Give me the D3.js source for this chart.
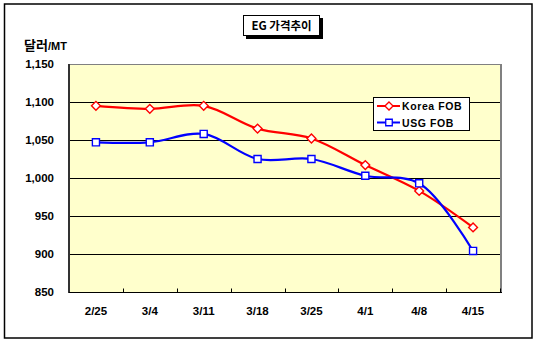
<!DOCTYPE html>
<html><head><meta charset="utf-8">
<script src="https://cdn.jsdelivr.net/npm/d3@7"></script>
<style>body{margin:0;background:#fff}</style>
</head><body><svg id="c" width="537" height="345"></svg>
<script>
const categories = ["2/25","3/4","3/11","3/18","3/25","4/1","4/8","4/15"];
const koreaFOB = [1095,1091,1095,1065,1052,1017,983,935];
const usgFOB = [1047,1047,1058,1025,1025,1003,993,904];
const yTicks = [850,900,950,1000,1050,1100,1150];
const seriesNames = ["Korea FOB","USG FOB"];
const title = "EG 가격추이";

const svg = d3.select("#c");
const L=69,R=500,T=64,B=292;
const font = "'Liberation Sans', Arial, sans-serif";
const kfont = "'Noto Sans CJK KR', sans-serif";

// outer border
svg.append("rect").attr("x",4.5).attr("y",4).attr("width",527.5).attr("height",334)
  .attr("fill","#fff").attr("stroke","#000").attr("stroke-width",1.5);

const x = d3.scaleBand().domain(categories).range([L,R]);
const y = d3.scaleLinear().domain([850,1150]).range([B,T]);

// plot area
svg.append("rect").attr("x",L).attr("y",T).attr("width",R-L).attr("height",B-T).attr("fill","#FFFFCC");
// grid
svg.append("g").selectAll("line").data(yTicks.filter(d=>d>850&&d<1150)).join("line")
  .attr("x1",L).attr("x2",R).attr("y1",d=>y(d)+0.5).attr("y2",d=>y(d)+0.5)
  .attr("stroke","#000").attr("stroke-width",1);
// plot border top & right gray
svg.append("line").attr("x1",L).attr("x2",R+1).attr("y1",T+0.5).attr("y2",T+0.5).attr("stroke","#808080");
svg.append("line").attr("x1",R+1).attr("x2",R+1).attr("y1",T).attr("y2",B).attr("stroke","#808080").attr("stroke-width",2);
// left axis
svg.append("line").attr("x1",L).attr("x2",L).attr("y1",T).attr("y2",B+1).attr("stroke","#333").attr("stroke-width",2);
// bottom axis
svg.append("line").attr("x1",L).attr("x2",R+2).attr("y1",B+0.5).attr("y2",B+0.5).attr("stroke","#000");
// x ticks between categories (inside)
const tickPos = categories.slice(1).map(c=>x(c)).concat([R]);
svg.append("g").selectAll("line").data(tickPos).join("line")
  .attr("x1",d=>Math.round(d)+0.5).attr("x2",d=>Math.round(d)+0.5).attr("y1",B).attr("y2",B-3.5)
  .attr("stroke","#000");

// y labels
svg.append("g").selectAll("text").data(yTicks).join("text")
  .attr("x",54).attr("y",d=>y(d)+4).attr("text-anchor","end")
  .attr("font-family",font).attr("font-weight","bold").attr("font-size",11.5)
  .text(d3.format(","));
// x labels
svg.append("g").selectAll("text").data(categories).join("text")
  .attr("x",d=>x(d)+x.bandwidth()/2).attr("y",315).attr("text-anchor","middle")
  .attr("font-family",font).attr("font-weight","bold").attr("font-size",11.5)
  .text(d=>d);

// unit label
const u = svg.append("text").attr("x",24).attr("y",50).attr("font-weight","bold");
u.append("tspan").attr("font-family",kfont).attr("font-size",13).text("달러");
u.append("tspan").attr("font-family",font).attr("font-size",11).text("/MT");

// title box
svg.append("rect").attr("x",246).attr("y",18).attr("width",77).attr("height",21).attr("fill","#000");
svg.append("rect").attr("x",243.5).attr("y",15.5).attr("width",76).attr("height",20).attr("fill","#fff").attr("stroke","#000");
svg.append("text").attr("x",281.5).attr("y",30).attr("text-anchor","middle")
  .attr("font-family",kfont).attr("font-weight","bold").attr("font-size",11.5).text(title);

const line = d3.line().x((d,i)=>x(categories[i])+x.bandwidth()/2).y(d=>y(d)).curve(d3.curveCatmullRom.alpha(0.5));
const colors = ["#FF0000","#0000FF"];
[koreaFOB,usgFOB].forEach((s,k)=>{
  svg.append("path").attr("d",line(s)).attr("fill","none").attr("stroke",colors[k]).attr("stroke-width",2.2);
});
// markers
const sym = [d3.symbolDiamond2, d3.symbolSquare2];
const sizes = [50,64];
[koreaFOB,usgFOB].forEach((s,k)=>{
  svg.append("g").selectAll("path").data(s).join("path")
    .attr("transform",(d,i)=>`translate(${x(categories[i])+x.bandwidth()/2},${y(d)})`)
    .attr("d",d3.symbol(sym[k],sizes[k])).attr("fill","#fff").attr("stroke",colors[k]).attr("stroke-width",1.4);
});

// legend
svg.append("rect").attr("x",373.5).attr("y",97.5).attr("width",96).attr("height",33)
  .attr("fill","#fff").attr("stroke","#000");
seriesNames.forEach((n,k)=>{
  const yy = 106+k*16.5;
  svg.append("line").attr("x1",377).attr("x2",400).attr("y1",yy).attr("y2",yy).attr("stroke",colors[k]).attr("stroke-width",2);
  svg.append("path").attr("transform",`translate(389,${yy})`).attr("d",d3.symbol(sym[k],sizes[k]*0.85))
    .attr("fill","#fff").attr("stroke",colors[k]).attr("stroke-width",1.3);
  svg.append("text").attr("x",402).attr("y",yy+4).attr("font-family",font).attr("font-weight","bold")
    .attr("font-size",10.5).attr("letter-spacing",0.6).text(n);
});
</script></body></html>
